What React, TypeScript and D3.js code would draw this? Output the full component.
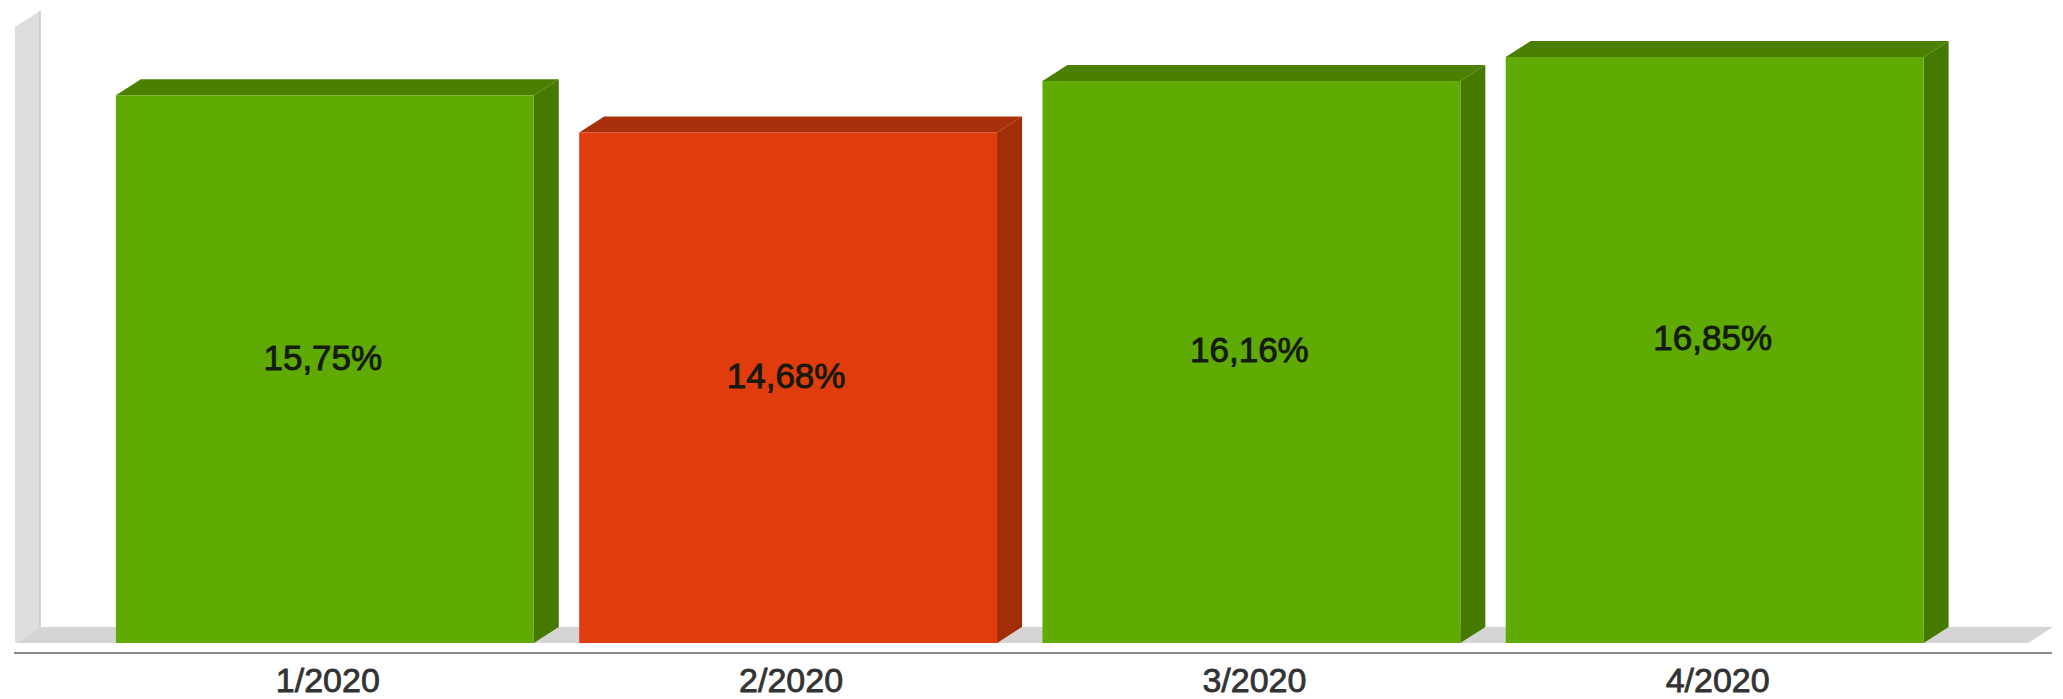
import React from "react";
import * as d3 from "d3";

const categories = ["1/2020", "2/2020", "3/2020", "4/2020"];
const values = [15.75, 14.68, 16.16, 16.85];
const valueLabels = ["15,75%", "14,68%", "16,16%", "16,85%"];
const barKinds = ["up", "down", "up", "up"];

const W = 2063;
const H = 699;
const DX = 25;
const DY = 16;
const FLOOR_Y = 643;

const palette: Record<string, { front: string; top: string; side: string }> = {
  up: { front: "#5fab04", top: "#4a7f00", side: "#457900" },
  down: { front: "#e13c0d", top: "#a8300a", side: "#a22d09" },
};

export default function App() {
  const x = d3
    .scaleBand<string>()
    .domain(categories)
    .range([70.5, 1969])
    .paddingInner(0.098)
    .paddingOuter(0.098);
  const y = d3.scaleLinear().domain([0, 18]).range([FLOOR_Y, FLOOR_Y - 626]);
  const bw = x.bandwidth();
  const font = "Arial, 'Liberation Sans', sans-serif";

  return (
    <svg
      width={W}
      height={H}
      style={{ position: "absolute", left: 0, top: 0, background: "#fff" }}
    >
      {/* left wall */}
      <polygon
        points={`15,27 ${15 + DX},${27 - DY} ${15 + DX},${FLOOR_Y - DY} 15,${FLOOR_Y}`}
        fill="#dddddd"
      />
      <line x1={15 + DX} y1={27 - DY} x2={15 + DX} y2={FLOOR_Y - DY} stroke="#c9c9c9" strokeWidth={1.5} />
      {/* floor */}
      <polygon
        points={`15,${FLOOR_Y} ${15 + DX},${FLOOR_Y - DY} 2053,${FLOOR_Y - DY} ${2053 - DX},${FLOOR_Y}`}
        fill="#d5d5d5"
      />
      {/* axis line */}
      <line x1={14} y1={653} x2={2052} y2={653} stroke="#8a8a8a" strokeWidth={2} />

      {categories.map((c, i) => {
        const x0 = x(c)!;
        const x1 = x0 + bw;
        const yt = y(values[i]);
        const col = palette[barKinds[i]];
        return (
          <g key={c}>
            <polygon
              points={`${x0},${yt} ${x0 + DX},${yt - DY} ${x1 + DX},${yt - DY} ${x1},${yt}`}
              fill={col.top}
            />
            <polygon
              points={`${x1},${yt} ${x1 + DX},${yt - DY} ${x1 + DX},${FLOOR_Y - DY} ${x1},${FLOOR_Y}`}
              fill={col.side}
            />
            <rect x={x0} y={yt} width={bw} height={FLOOR_Y - yt} fill={col.front} />
            <text
              x={x0 + bw / 2 - 2}
              y={(yt + FLOOR_Y) / 2 - 12}
              textAnchor="middle"
              dominantBaseline="central"
              fontFamily={font}
              fontSize={35}
              fill="#141a0e"
              stroke="#141a0e"
              strokeWidth={0.9}
            >
              {valueLabels[i]}
            </text>
            <text
              x={x0 + bw / 2 + 3}
              y={692}
              textAnchor="middle"
              fontFamily={font}
              fontSize={34}
              fill="#333333"
              stroke="#333333"
              strokeWidth={0.8}
            >
              {c}
            </text>
          </g>
        );
      })}
    </svg>
  );
}
